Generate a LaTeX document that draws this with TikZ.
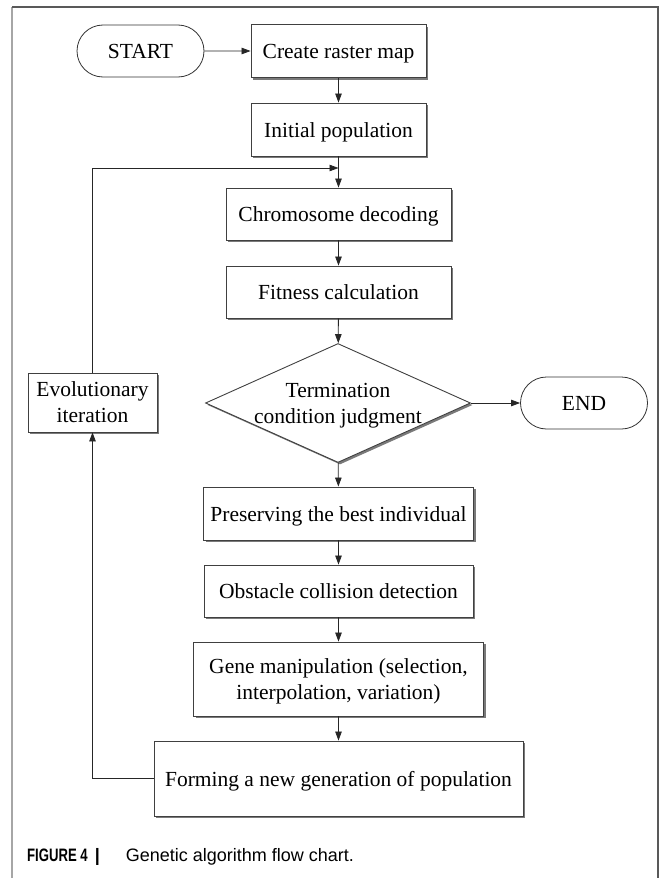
\documentclass[tikz,border=0pt]{standalone}
\usepackage{fontspec}
\setmainfont{Liberation Serif}
\newfontfamily\capfont{Liberation Sans}
\usetikzlibrary{shapes,arrows.meta,shadows}

\begin{document}
\begin{tikzpicture}[x=1pt,y=-1pt,
		box/.style={draw=black!75, line width=0.9pt, fill=white, align=center, inner sep=0pt,
			font=\fontsize{21.5}{26}\selectfont, text height=15.5pt, text depth=0pt,
			drop shadow={shadow xshift=2pt, shadow yshift=-2pt, fill=black!80, opacity=0.65}},
		twoline/.style={box, text height=, text depth=0pt},
		term/.style={rounded rectangle, draw=black!80, line width=0.8pt, fill=white, inner sep=0pt,
			font=\fontsize{21.5}{26}\selectfont, text height=14pt, text depth=0pt,
			minimum width=127pt, minimum height=52pt},
		judge/.style={twoline, diamond, inner sep=-4pt, aspect=2.23, minimum width=265pt, minimum height=119pt},
		arr/.style={draw=black!85, line width=0.8pt, -{Triangle[length=9pt,width=6.5pt]}}]
			\useasboundingbox (0,0) rectangle (662,878);
			\draw[black!35, line width=1.2pt] (12,878)--(12,7);
			\draw[black!65, line width=1.2pt] (12,7)--(658,7)--(658,878);

			\node[term] (start) at (140.5,51) {START};
			\node[box, minimum width=175pt, minimum height=53pt] (raster) at (338.5,51) {Create raster map};
			\node[box, minimum width=175pt, minimum height=53pt] (init) at (338.5,129.5) {Initial population};
			\coordinate (join) at (338.5,168);
			\node[box, minimum width=225pt, minimum height=52pt] (decode) at (338.5,214) {Chromosome decoding};
			\node[box, minimum width=225pt, minimum height=52pt] (fitness) at (338.5,292) {Fitness calculation};
			\node[judge] (check) at (338,403) {Termination\\condition judgment};
			\node[term] (finish) at (584,403) {END};
			\node[box, minimum width=270pt, minimum height=53pt] (best) at (338.5,513.5) {Preserving the best individual};
			\node[box, minimum width=269pt, minimum height=52pt] (collide) at (338.5,591) {Obstacle collision detection};
			\node[twoline, minimum width=290pt, minimum height=74pt] (gene) at (338.5,679) {Gene manipulation (selection,\\interpolation, variation)};
			\node[box, minimum width=369pt, minimum height=75pt] (newgen) at (338.5,778.5) {Forming a new generation of population};
			\node[twoline, minimum width=129pt, minimum height=59pt] (evolve) at (92.5,402.5) {Evolutionary\\iteration};

			\draw[arr] (start)--(raster);
			\draw[arr] (raster)--(init);
			\draw[arr] (init)--(decode);
			\draw[arr] (decode)--(fitness);
			\draw[arr] (fitness)--(check);
			\draw[arr] (check)--(finish);
			\draw[arr] (check)--(best);
			\draw[arr] (best)--(collide);
			\draw[arr] (collide)--(gene);
			\draw[arr] (gene)--(newgen);
			\draw[arr] (newgen.west)-|(evolve.south);
			\draw[arr] (evolve.north)|-(join);

			\node[anchor=base west, inner sep=0pt, font=\capfont\fontsize{18}{20}\selectfont] (caption) at (27,861)
				{\scalebox{0.73}[1]{\bfseries FIGURE 4}\hspace{7pt}{\bfseries|}\hspace{26pt}Genetic algorithm flow chart.};
		\end{tikzpicture}
\end{document}
